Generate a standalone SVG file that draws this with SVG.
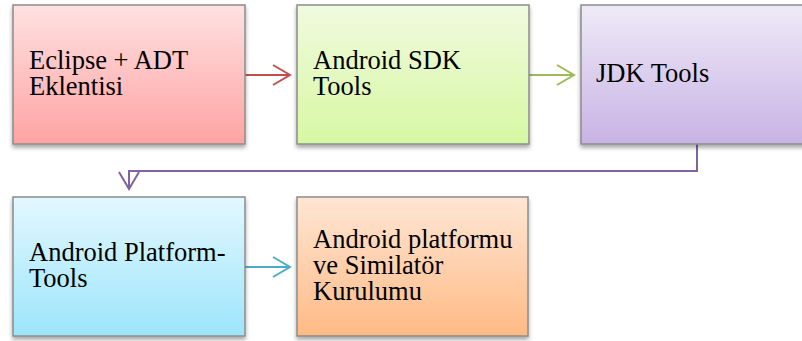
<svg xmlns="http://www.w3.org/2000/svg" width="802" height="341" viewBox="0 0 802 341">
<defs>
<linearGradient id="gRed" x1="0" y1="0" x2="0" y2="1"><stop offset="0" stop-color="#FFE1E1"/><stop offset="1" stop-color="#FFA3A3"/></linearGradient>
<linearGradient id="gGreen" x1="0" y1="0" x2="0" y2="1"><stop offset="0" stop-color="#F1FADF"/><stop offset="1" stop-color="#D7F8A2"/></linearGradient>
<linearGradient id="gPurple" x1="0" y1="0" x2="0" y2="1"><stop offset="0" stop-color="#EFEAF7"/><stop offset="1" stop-color="#C8B3E5"/></linearGradient>
<linearGradient id="gBlue" x1="0" y1="0" x2="0" y2="1"><stop offset="0" stop-color="#E2F8FE"/><stop offset="1" stop-color="#9DE5FB"/></linearGradient>
<linearGradient id="gOrange" x1="0" y1="0" x2="0" y2="1"><stop offset="0" stop-color="#FFE6D4"/><stop offset="1" stop-color="#FFBA85"/></linearGradient>
<filter id="sh" x="-10%" y="-10%" width="120%" height="130%"><feGaussianBlur in="SourceAlpha" stdDeviation="2"/><feOffset dx="0" dy="3"/><feComponentTransfer><feFuncA type="linear" slope="0.35"/></feComponentTransfer><feMerge><feMergeNode/><feMergeNode in="SourceGraphic"/></feMerge></filter>
</defs>
<rect width="802" height="341" fill="#FFFFFF"/>
<g id="connectors" fill="none" stroke-width="2">
<g stroke="#C0504D"><line x1="245" y1="75" x2="289" y2="75"/><polyline points="273,65 290,75 273,85"/></g>
<g stroke="#9BBB59"><line x1="529" y1="75" x2="573" y2="75"/><polyline points="557,65 574,75 557,85"/></g>
<g stroke="#8064A2"><polyline points="697,144 697,171 129,171 129,188"/><polyline points="119,172 129,189 139,172"/></g>
<g stroke="#4BACC6"><line x1="245" y1="267" x2="289" y2="267"/><polyline points="273,257 290,267 273,277"/></g>
</g>
<g id="nodes" font-family="'Liberation Serif', serif" font-size="26.5" fill="#000">
<g id="n1"><rect x="13" y="5" width="232" height="139" fill="url(#gRed)" stroke="#8C8C8C" stroke-width="1.5" filter="url(#sh)"/><text x="29" y="69">Eclipse + ADT</text><text x="29" y="95">Eklentisi</text></g>
<g id="n2"><rect x="297" y="5" width="232" height="139" fill="url(#gGreen)" stroke="#8C8C8C" stroke-width="1.5" filter="url(#sh)"/><text x="313" y="69">Android SDK</text><text x="313" y="95">Tools</text></g>
<g id="n3"><rect x="581" y="5" width="240" height="139" fill="url(#gPurple)" stroke="#8C8C8C" stroke-width="1.5" filter="url(#sh)"/><text x="596" y="82">JDK Tools</text></g>
<g id="n4"><rect x="13" y="197" width="232" height="139" fill="url(#gBlue)" stroke="#8C8C8C" stroke-width="1.5" filter="url(#sh)"/><text x="29" y="261">Android Platform-</text><text x="29" y="287">Tools</text></g>
<g id="n5"><rect x="297" y="197" width="231" height="139" fill="url(#gOrange)" stroke="#8C8C8C" stroke-width="1.5" filter="url(#sh)"/><text x="313" y="248">Android platformu</text><text x="313" y="274">ve Similatör</text><text x="313" y="300">Kurulumu</text></g>
</g>
</svg>
